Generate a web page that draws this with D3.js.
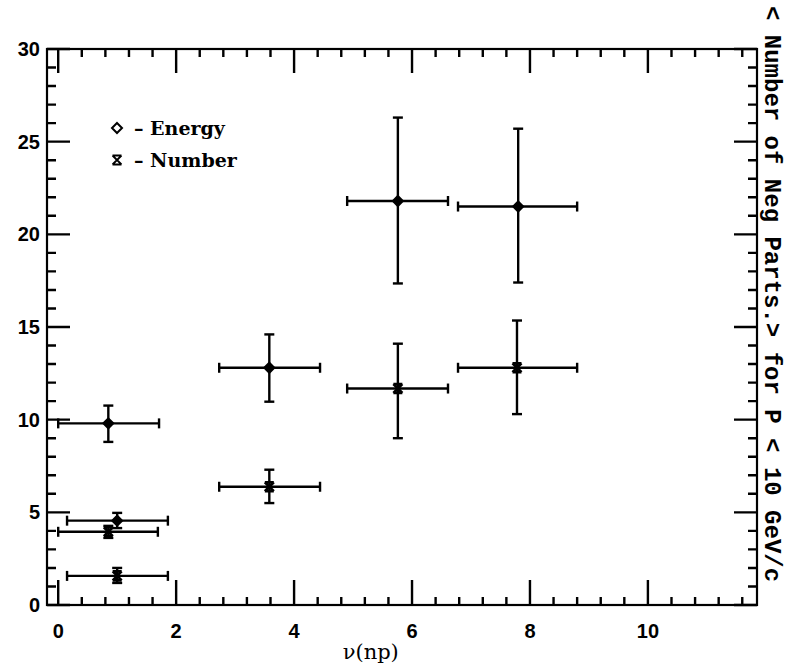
<!DOCTYPE html>
<html><head><meta charset="utf-8">
<script src="https://cdn.jsdelivr.net/npm/d3@7"></script>
<style>body{margin:0;background:#fff}svg{display:block}</style>
</head><body>
<script>
// ---- data ----
const energyX    = [0.85, 1.00, 3.58, 5.76, 7.80];
const energyY    = [9.8, 4.55, 12.8, 21.8, 21.5];
const energyXlo  = [0.00, 0.15, 2.73, 4.90, 6.78];
const energyXhi  = [1.71, 1.86, 4.44, 6.61, 8.80];
const energyYlo  = [8.8, 4.15, 10.97, 17.35, 17.4];
const energyYhi  = [10.76, 4.97, 14.6, 26.3, 25.7];

const numberX    = [0.85, 1.00, 3.58, 5.76, 7.78];
const numberY    = [3.95, 1.57, 6.38, 11.68, 12.8];
const numberXlo  = [0.00, 0.15, 2.73, 4.90, 6.78];
const numberXhi  = [1.69, 1.86, 4.44, 6.61, 8.80];
const numberYlo  = [3.62, 1.19, 5.50, 9.0, 10.3];
const numberYhi  = [4.27, 2.00, 7.30, 14.1, 15.35];

const xTickLabels = [0, 2, 4, 6, 8, 10];
const yTickLabels = [0, 5, 10, 15, 20, 25, 30];
const legendLabels = ["– Energy", "– Number"];
const xTitle = "ν(np)";
const yTitle = "< Number of Neg Parts.> for P < 10 GeV/c";

// ---- layout ----
const W = 792, H = 664;
const L = 47, R = 757, T = 49, B = 605;
const svg = d3.select("body").append("svg").attr("width", W).attr("height", H);
const x = d3.scaleLinear().domain([-0.19, 11.85]).range([L, R]);
const y = d3.scaleLinear().domain([0, 30]).range([B, T]);
const ink = "#000";

// frame
svg.append("rect").attr("x", L).attr("y", T).attr("width", R - L).attr("height", B - T)
  .attr("fill", "none").attr("stroke", ink).attr("stroke-width", 2.2);

// tick labels
svg.append("g").selectAll("text").data(xTickLabels).join("text")
  .attr("x", d => x(d)).attr("y", 638).attr("text-anchor", "middle")
  .attr("font-family", "Liberation Sans, Arial, sans-serif").attr("font-weight", "bold")
  .attr("font-size", 20).attr("fill", ink).text(d => d);
svg.append("g").selectAll("text").data(yTickLabels).join("text")
  .attr("x", 40).attr("y", d => y(d) + 7).attr("text-anchor", "end")
  .attr("font-family", "Liberation Sans, Arial, sans-serif").attr("font-weight", "bold")
  .attr("font-size", 20).attr("fill", ink).text(d => d);

// axis titles
svg.append("text").attr("x", x(5.3)).attr("y", 659).attr("text-anchor", "middle")
  .attr("font-family", "DejaVu Serif, serif").attr("font-size", 21).attr("fill", ink).text(xTitle);
svg.append("text").attr("transform", "translate(765,6) rotate(90)")
  .attr("font-family", "Liberation Mono, monospace").attr("font-weight", "bold")
  .attr("font-size", 24).attr("fill", ink)
  .attr("xml:space", "preserve").text(yTitle);

// error bars
function drawSeries(xs, ys, xlo, xhi, ylo, yhi, marker) {
  const s = svg.append("g").attr("stroke", ink).attr("stroke-width", 2.4).attr("fill", ink);
  const cap = 5;
  xs.forEach((xv, i) => {
    const cx = x(xv), cy = y(ys[i]);
    s.append("line").attr("x1", x(xlo[i])).attr("x2", x(xhi[i])).attr("y1", cy).attr("y2", cy);
    s.append("line").attr("x1", x(xlo[i])).attr("x2", x(xlo[i])).attr("y1", cy - cap).attr("y2", cy + cap);
    s.append("line").attr("x1", x(xhi[i])).attr("x2", x(xhi[i])).attr("y1", cy - cap).attr("y2", cy + cap);
    s.append("line").attr("x1", cx).attr("x2", cx).attr("y1", y(ylo[i])).attr("y2", y(yhi[i]));
    s.append("line").attr("x1", cx - cap).attr("x2", cx + cap).attr("y1", y(ylo[i])).attr("y2", y(ylo[i]));
    s.append("line").attr("x1", cx - cap).attr("x2", cx + cap).attr("y1", y(yhi[i])).attr("y2", y(yhi[i]));
    marker(s, cx, cy, true);
  });
}
function diamond(s, cx, cy, filled) {
  const r = 5;
  s.append("path").attr("d", `M${cx},${cy - r}L${cx + r},${cy}L${cx},${cy + r}L${cx - r},${cy}Z`)
    .attr("fill", filled ? ink : "none").attr("stroke-width", 2);
}
function hourglass(s, cx, cy, filled) {
  const r = 4.5;
  s.append("path").attr("d",
    `M${cx - r},${cy - r}L${cx + r},${cy - r}M${cx - r},${cy + r}L${cx + r},${cy + r}` +
    `M${cx - r},${cy - r}L${cx + r},${cy + r}M${cx + r},${cy - r}L${cx - r},${cy + r}`)
    .attr("fill", "none").attr("stroke-width", filled ? 2.6 : 1.8);
}
drawSeries(energyX, energyY, energyXlo, energyXhi, energyYlo, energyYhi, diamond);
drawSeries(numberX, numberY, numberXlo, numberXhi, numberYlo, numberYhi, hourglass);

// legend
const lg = svg.append("g").attr("stroke", ink).attr("fill", "none");
diamond(lg, 117, 128, false);
hourglass(lg, 117, 160, false);
svg.append("g").selectAll("text").data(legendLabels).join("text")
  .attr("x", 134).attr("y", (d, i) => 135 + i * 32)
  .attr("font-family", "DejaVu Serif, serif").attr("font-weight", "bold")
  .attr("font-size", 19).attr("fill", ink).attr("xml:space", "preserve").text(d => d);

// inner ticks on all four sides (drawn last, on top)
const xMinorVals = d3.range(0, 30).map(i => +(i * 0.4).toFixed(2))
  .filter(v => v <= 11.7 && !xTickLabels.includes(v));
const yMinorVals = d3.range(0, 31).filter(v => !yTickLabels.includes(v));
let dTicks = "";
xTickLabels.forEach(v => { dTicks += `M${x(v)},${B}V${B - 25}M${x(v)},${T}V${T + 24}`; });
xMinorVals.forEach(v => { dTicks += `M${x(v)},${B}V${B - 8}M${x(v)},${T}V${T + 8}`; });
yTickLabels.forEach(v => { dTicks += `M${L},${y(v)}H${L + 23}M${R},${y(v)}H${R - 23}`; });
yMinorVals.forEach(v => { dTicks += `M${L},${y(v)}H${L + 9}M${R},${y(v)}H${R - 9}`; });
svg.append("path").attr("d", dTicks).attr("fill", "none")
  .attr("stroke", ink).attr("stroke-width", 2.4);
</script>
</body></html>
